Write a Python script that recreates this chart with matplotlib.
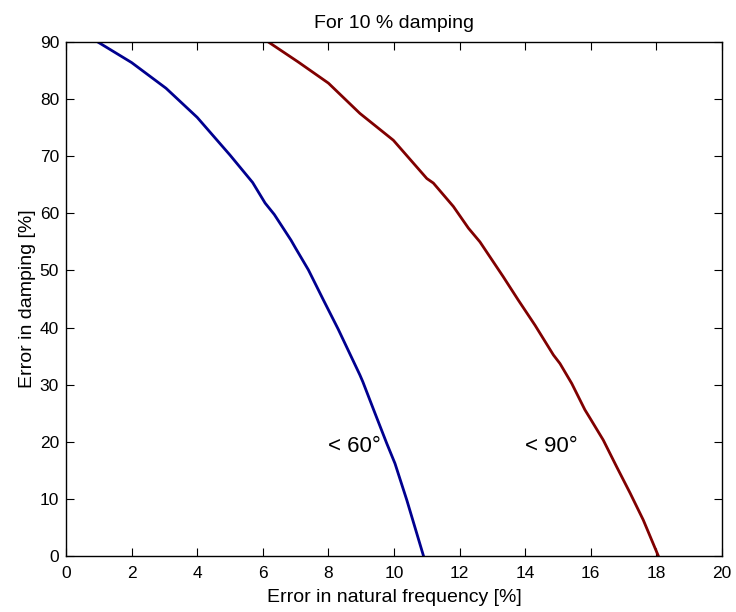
import matplotlib
matplotlib.use("Agg")
import matplotlib.pyplot as plt

plt.rcParams['font.family'] = ['Liberation Sans', 'DejaVu Sans']

blue_x = [0.97, 2.0, 3.05, 4.0, 5.0, 5.69, 6.07, 6.35, 6.86, 7.0, 7.39, 7.85, 8.3,
          8.96, 9.05, 9.42, 9.78, 10.03, 10.39, 10.9]
blue_y = [90, 86.4, 81.9, 76.8, 70.2, 65.4, 61.8, 59.8, 55.3, 53.9, 50.1, 44.8, 39.7,
          31.7, 30.5, 25.0, 19.7, 16.2, 9.8, 0]

red_x = [6.17, 7.08, 8.0, 8.96, 9.98, 11.0, 11.2, 11.81, 12.27, 12.62, 13.33, 13.79, 14.3,
         14.86, 15.06, 15.42, 15.82, 15.98, 16.38, 16.79, 17.2, 17.6, 18.06]
red_y = [90, 86.5, 82.8, 77.5, 72.8, 66.1, 65.3, 61.2, 57.4, 55.0, 48.9, 44.8, 40.4,
         35.2, 33.7, 30.2, 25.6, 24.1, 20.3, 15.6, 11.0, 6.3, 0]

labels = ["< 60°", "< 90°"]
label_x = [8.0, 14.0]
label_y = [19.2, 19.2]

x_ticks = list(range(0, 21, 2))
y_ticks = list(range(0, 91, 10))

fig = plt.figure(figsize=(7.36, 6.12), dpi=100)
ax = fig.add_axes([66/736, 1 - 556/612, (722 - 66)/736, (556 - 42)/612])

ax.plot(blue_x, blue_y, color="#00008f", lw=2.0)
ax.plot(red_x, red_y, color="#800000", lw=2.0)

for t, x, y in zip(labels, label_x, label_y):
    ax.text(x, y, t, fontsize=16, ha="left", va="center")

ax.set_xlim(0, 20)
ax.set_ylim(0, 90)
ax.set_xticks(x_ticks)
ax.set_yticks(y_ticks)
ax.tick_params(direction="in", top=True, right=True, length=6, width=0.8,
               labelsize=12.5)
ax.tick_params(axis="x", pad=7)
ax.tick_params(axis="y", pad=5)
for s in ax.spines.values():
    s.set_linewidth(1.0)

ax.set_title("For 10 % damping", fontsize=14, pad=10)
ax.set_xlabel("Error in natural frequency [%]", fontsize=14, labelpad=6)
ax.set_ylabel("Error in damping [%]", fontsize=14, labelpad=3)

fig.savefig("out.png", dpi=100)
